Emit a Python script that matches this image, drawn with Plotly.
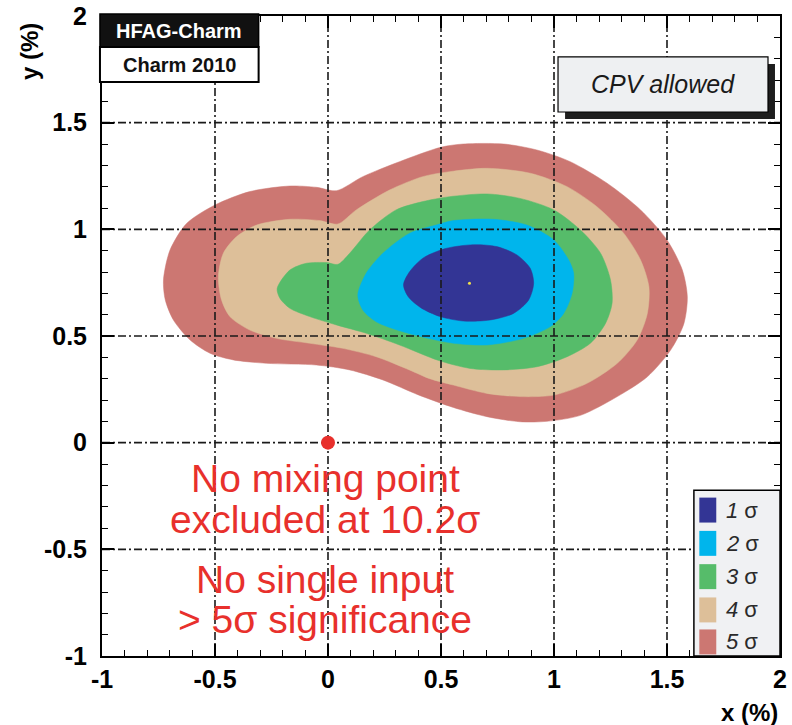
import plotly.graph_objects as go

# Allowed regions in the (x, y) charm-mixing plane, one closed boundary per level
SIGMA5_X = [-0.728, -0.699, -0.625, -0.500, -0.346, -0.169, -0.051, 0.037, 0.154, 0.316, 0.500,
            0.599, 0.777, 0.924, 1.072, 1.235, 1.383, 1.500, 1.568, 1.590, 1.575, 1.516, 1.413,
            1.280, 1.117, 0.969, 0.850, 0.703, 0.555, 0.400, 0.243, 0.096, -0.051, -0.272,
            -0.419, -0.522, -0.610, -0.684, -0.720]
SIGMA5_Y = [0.763, 0.903, 1.028, 1.114, 1.177, 1.203, 1.197, 1.181, 1.247, 1.317, 1.385,
            1.400, 1.400, 1.372, 1.317, 1.216, 1.091, 0.950, 0.809, 0.684, 0.559, 0.434, 0.309,
            0.216, 0.128, 0.100, 0.098, 0.122, 0.165, 0.224, 0.294, 0.341, 0.364, 0.372,
            0.388, 0.419, 0.481, 0.575, 0.669]

SIGMA4_X = [-0.485, -0.463, -0.404, -0.316, -0.169, -0.037, 0.044, 0.125, 0.272, 0.419, 0.537,
            0.703, 0.895, 1.058, 1.190, 1.309, 1.383, 1.420, 1.413, 1.368, 1.280, 1.146, 0.999,
            0.850, 0.703, 0.555, 0.450, 0.360, 0.213, 0.066, -0.081, -0.228, -0.346, -0.434,
            -0.471]
SIGMA4_Y = [0.778, 0.888, 0.966, 1.020, 1.047, 1.041, 1.025, 1.091, 1.184, 1.247, 1.270,
            1.286, 1.263, 1.200, 1.106, 0.981, 0.856, 0.731, 0.606, 0.481, 0.372, 0.278, 0.223,
            0.216, 0.231, 0.270, 0.300, 0.341, 0.403, 0.442, 0.466, 0.489, 0.528, 0.591,
            0.669]

SIGMA3_X = [-0.225, -0.169, -0.096, -0.007, 0.044, 0.096, 0.184, 0.301, 0.419, 0.537, 0.703,
            0.850, 0.999, 1.117, 1.206, 1.250, 1.257, 1.228, 1.161, 1.058, 0.925, 0.777, 0.629,
            0.490, 0.316, 0.169, 0.037, -0.081, -0.169, -0.213]
SIGMA3_Y = [0.723, 0.809, 0.841, 0.844, 0.836, 0.888, 0.997, 1.091, 1.130, 1.153, 1.166,
            1.145, 1.091, 0.997, 0.888, 0.763, 0.653, 0.559, 0.466, 0.403, 0.356, 0.341, 0.348,
            0.385, 0.458, 0.513, 0.552, 0.591, 0.630, 0.677]

SIGMA2_X = [0.132, 0.169, 0.243, 0.360, 0.478, 0.555, 0.732, 0.880, 0.999, 1.065, 1.087,
            1.080, 1.043, 0.984, 0.865, 0.703, 0.555, 0.478, 0.331, 0.213, 0.154]
SIGMA2_Y = [0.692, 0.794, 0.888, 0.981, 1.020, 1.041, 1.047, 1.020, 0.950, 0.856, 0.794,
            0.700, 0.606, 0.544, 0.489, 0.458, 0.466, 0.481, 0.520, 0.567, 0.622]

SIGMA1_X = [0.334, 0.360, 0.420, 0.520, 0.643, 0.747, 0.836, 0.895, 0.910, 0.888, 0.821,
            0.717, 0.599, 0.496, 0.410, 0.355]
SIGMA1_Y = [0.740, 0.800, 0.865, 0.910, 0.928, 0.919, 0.880, 0.817, 0.747, 0.669, 0.606,
            0.575, 0.570, 0.591, 0.633, 0.684]

BEST_FIT = (0.626, 0.747)
NO_MIXING = (0.0, 0.0)

LEVEL_LABELS = ["1", "2", "3", "4", "5"]
LEVEL_COLORS = ["#333595", "#00b5ec", "#56bc6a", "#ddbf99", "#cc7772"]

AXIS_TICKS = [-1.0, -0.5, 0.0, 0.5, 1.0, 1.5, 2.0]
AXIS_RANGE = [-1.0, 2.0]

FONT = "Liberation Sans, Arial, Helvetica, sans-serif"
RED = "#e8302c"

fig = go.Figure()

# Filled confidence regions, outermost first
contours = [(SIGMA5_X, SIGMA5_Y), (SIGMA4_X, SIGMA4_Y), (SIGMA3_X, SIGMA3_Y),
            (SIGMA2_X, SIGMA2_Y), (SIGMA1_X, SIGMA1_Y)]
for (cx, cy), color in zip(contours, LEVEL_COLORS[::-1]):
    fig.add_trace(go.Scatter(
        x=cx + cx[:1], y=cy + cy[:1], mode="lines", fill="toself",
        fillcolor=color, line=dict(color=color, width=0.5, shape="spline", smoothing=0.8),
        hoverinfo="skip", showlegend=False))

# Dash-dotted grid drawn on top of the filled regions
inner = [t for t in AXIS_TICKS if AXIS_RANGE[0] < t < AXIS_RANGE[1]]
gx, gy = [], []
for t in inner:
    gx += [t, t, None]
    gy += [AXIS_RANGE[0], AXIS_RANGE[1], None]
    gx += [AXIS_RANGE[0], AXIS_RANGE[1], None]
    gy += [t, t, None]
fig.add_trace(go.Scatter(x=gx, y=gy, mode="lines",
                         line=dict(color="#1a1a1a", width=1.6, dash="8px,3px,2px,3px"),
                         hoverinfo="skip", showlegend=False))

# Best-fit point and the no-mixing point
fig.add_trace(go.Scatter(x=[BEST_FIT[0]], y=[BEST_FIT[1]], mode="markers",
                         marker=dict(size=3, color="#f2e14a"), showlegend=False))
fig.add_trace(go.Scatter(x=[NO_MIXING[0]], y=[NO_MIXING[1]], mode="markers",
                         marker=dict(size=14, color=RED), showlegend=False))

axis_common = dict(
    range=AXIS_RANGE, tickmode="array", tickvals=AXIS_TICKS,
    ticktext=[f"{t:g}" for t in AXIS_TICKS],
    ticks="inside", ticklen=12, tickwidth=1.5, tickcolor="black",
    minor=dict(dtick=0.1, tick0=-1, ticks="inside", ticklen=6, tickwidth=1, tickcolor="black"),
    showline=True, linewidth=2, linecolor="black", mirror="allticks",
    showgrid=False, zeroline=False, automargin=False,
    tickfont=dict(family=FONT, size=25, color="black", weight="bold"),
)

shapes = []
annotations = []

# HFAG label block
shapes.append(dict(type="rect", xref="paper", yref="paper", x0=-0.003, x1=0.231,
                   y0=0.9516, y1=1.003, fillcolor="#111111", line=dict(color="black", width=1.5),
                   layer="above"))
shapes.append(dict(type="rect", xref="paper", yref="paper", x0=-0.003, x1=0.231,
                   y0=0.897, y1=0.9516, fillcolor="white", line=dict(color="black", width=2),
                   layer="above"))
annotations.append(dict(text="<b>HFAG-Charm</b>", xref="paper", yref="paper", x=0.114, y=0.977,
                        showarrow=False, xanchor="center", yanchor="middle",
                        font=dict(family=FONT, size=20, color="white")))
annotations.append(dict(text="<b>Charm 2010</b>", xref="paper", yref="paper", x=0.114, y=0.924,
                        showarrow=False, xanchor="center", yanchor="middle",
                        font=dict(family=FONT, size=20, color="#111111")))

# "CPV allowed" box with drop shadow
shapes.append(dict(type="rect", xref="paper", yref="paper", x0=0.683, x1=0.9926,
                   y0=0.839, y1=0.925, fillcolor="#1e1e1e", line=dict(width=0), layer="above"))
shapes.append(dict(type="rect", xref="paper", yref="paper", x0=0.6726, x1=0.9823,
                   y0=0.850, y1=0.936, fillcolor="#eef0f2", line=dict(color="black", width=1.2),
                   layer="above"))
annotations.append(dict(text="<i>CPV allowed</i>", xref="paper", yref="paper", x=0.827, y=0.893,
                        showarrow=False, xanchor="center", yanchor="middle",
                        font=dict(family=FONT, size=25, color="#1a1a1a")))

# Legend for the confidence levels
shapes.append(dict(type="rect", xref="paper", yref="paper", x0=0.873, x1=1.0,
                   y0=0.0, y1=0.259, fillcolor="#f0f1f3", line=dict(color="black", width=1.5),
                   layer="above"))
row_y = [0.228, 0.176, 0.124, 0.072, 0.022]
for lab, col, ry in zip(LEVEL_LABELS, LEVEL_COLORS, row_y):
    shapes.append(dict(type="rect", xref="paper", yref="paper", x0=0.881, x1=0.906,
                       y0=ry - 0.0195, y1=ry + 0.0195, fillcolor=col, line=dict(width=0),
                       layer="above"))
    annotations.append(dict(text=f"<i>{lab}</i> σ", xref="paper", yref="paper", x=0.918, y=ry,
                            showarrow=False, xanchor="left", yanchor="middle",
                            font=dict(family=FONT, size=22, color="#2a2a2a")))

# Statements about the no-mixing hypothesis
statement_lines = ["No mixing point", "excluded at 10.2σ", "No single input", "> 5σ significance"]
statement_y = [0.2766, 0.214, 0.120, 0.0578]
for txt, ty in zip(statement_lines, statement_y):
    annotations.append(dict(text=txt, xref="paper", yref="paper", x=0.329, y=ty,
                            showarrow=False, xanchor="center", yanchor="middle",
                            font=dict(family=FONT, size=39, color=RED)))

# Axis titles
annotations.append(dict(text="<b>x (%)</b>", xref="paper", yref="paper", x=1.0, y=-0.0875,
                        showarrow=False, xanchor="right", yanchor="middle",
                        font=dict(family=FONT, size=24, color="black")))
annotations.append(dict(text="<b>y (%)</b>", xref="paper", yref="paper", x=-0.108, y=0.945,
                        showarrow=False, xanchor="center", yanchor="middle", textangle=-90,
                        font=dict(family=FONT, size=24, color="black")))

fig.update_layout(
    width=792, height=725,
    margin=dict(l=102, r=12, t=16, b=69),
    paper_bgcolor="white", plot_bgcolor="white",
    xaxis=dict(**axis_common, ticklabelstandoff=0),
    yaxis=dict(**axis_common, ticklabelstandoff=8),
    shapes=shapes, annotations=annotations,
    showlegend=False,
)

fig.write_html("out.html")
